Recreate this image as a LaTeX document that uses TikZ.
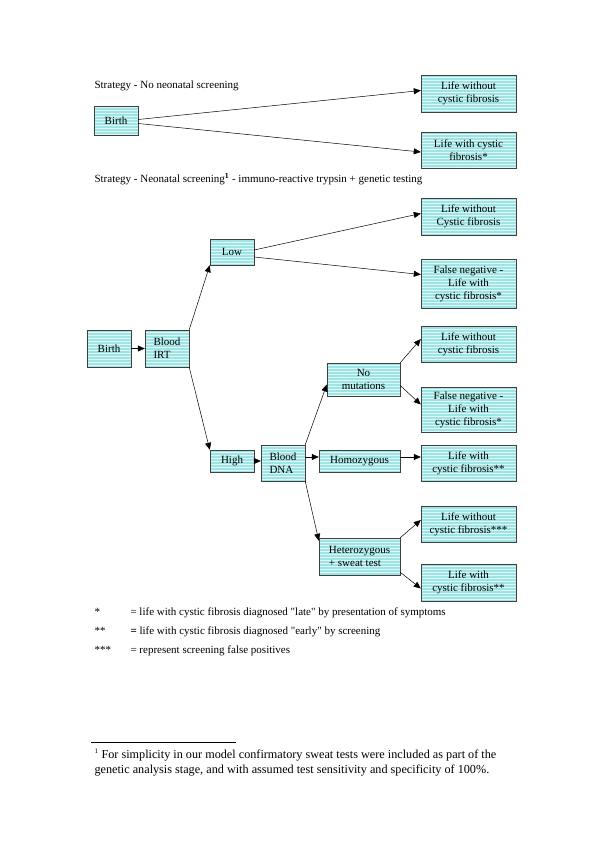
\documentclass[tikz,border=0pt]{standalone}
\usepackage{fontspec}
\setmainfont{Liberation Serif}
\usepackage{tikz}
\usetikzlibrary{arrows.meta,patterns}
\definecolor{boxcyan}{RGB}{158,228,228}
\definecolor{boxstripe}{RGB}{222,248,248}
\begin{document}
\begin{tikzpicture}
    [x=1pt, y=-1pt,
     every node/.style={font=\fontsize{11}{13}\selectfont},
     tree box/.style={draw=black!75, preaction={fill=boxcyan},
       pattern=horizontal lines, pattern color=boxstripe,
       inner sep=0pt, align=center},
     branch/.style={-{Triangle[length=7pt,width=6pt]}, line width=0.5pt},
     note/.style={anchor=base west, font=\fontsize{12.2}{14}\selectfont}]
    \useasboundingbox (0, 0) rectangle (600, 849);
    % strategy without screening
    \node[anchor=base west] (titleA) at (91, 88) {Strategy - No neonatal screening};
    \node[tree box, minimum width=44, minimum height=29] (birthA) at (116, 120.5) {Birth};
    \node[tree box, minimum width=95, minimum height=37] (lifeA) at (468.5, 93.5)
      {Life without\\cystic fibrosis};
    \node[tree box, minimum width=95, minimum height=36] (cfA) at (468.5, 150)
      {Life with cystic\\fibrosis*};
    \draw[branch] ([yshift=1pt]birthA.east) -- ([yshift=3pt]lifeA.west);
    \draw[branch] ([yshift=-3pt]birthA.east) -- ([yshift=-2pt]cfA.west);
    % strategy with screening
    \node[anchor=base west] (titleB) at (91, 182)
      {Strategy - Neonatal screening\textsuperscript{\textbf{1}} - immuno-reactive trypsin + genetic testing};
    \node[tree box, minimum width=44, minimum height=37] (birthB) at (109, 348.5) {Birth};
    \node[tree box, minimum width=44, minimum height=37, align=left] (bloodIRT) at (167, 348.5)
      {Blood\\IRT};
    \node[tree box, minimum width=44, minimum height=26] (low) at (232, 252) {Low};
    \node[tree box, minimum width=44, minimum height=22] (high) at (232, 461) {High};
    \node[tree box, minimum width=95, minimum height=37] (lifeLow) at (468.5, 216.5)
      {Life without\\Cystic fibrosis};
    \node[tree box, minimum width=95, minimum height=49] (fnLow) at (468.5, 283.5)
      {False negative -\\Life with\\cystic fibrosis*};
    \node[tree box, minimum width=44, minimum height=36, align=left] (bloodDNA) at (283, 463)
      {Blood\\DNA};
    \node[tree box, minimum width=73, minimum height=33] (noMut) at (363.5, 379.5)
      {No\\mutations};
    \node[tree box, minimum width=81, minimum height=22] (homo) at (359.5, 461) {Homozygous};
    \node[tree box, minimum width=81, minimum height=37, align=left] (hetero) at (359.5, 556.5)
      {Heterozygous\\+ sweat test};
    \node[tree box, minimum width=95, minimum height=36] (lifeNoMut) at (468.5, 344)
      {Life without\\cystic fibrosis};
    \node[tree box, minimum width=95, minimum height=45] (fnMut) at (468.5, 409.5)
      {False negative -\\Life with\\cystic fibrosis*};
    \node[tree box, minimum width=95, minimum height=36] (cfHomo) at (468.5, 463)
      {Life with\\cystic fibrosis**};
    \node[tree box, minimum width=95, minimum height=36] (lifeHet) at (468.5, 524)
      {Life without\\cystic fibrosis***};
    \node[tree box, minimum width=95, minimum height=37] (cfHet) at (468.5, 582.5)
      {Life with\\cystic fibrosis**};
    \draw[branch] (birthB.east) -- (bloodIRT.west);
    \draw[branch] (bloodIRT.north east) -- (low.south west);
    \draw[branch] (bloodIRT.south east) -- (high.north west);
    \draw[branch] ([yshift=2pt]low.east) -- ([yshift=3pt]lifeLow.west);
    \draw[branch] ([yshift=-5pt]low.east) -- ([yshift=9pt]fnLow.west);
    \draw[branch] (high.east) -- ([yshift=2pt]bloodDNA.west);
    \draw[branch] (bloodDNA.north east) -- ([yshift=-5pt]noMut.west);
    \draw[branch] ([yshift=6pt]bloodDNA.east) -- ([yshift=4pt]homo.west);
    \draw[branch] (bloodDNA.south east) -- ([yshift=-3pt]hetero.north west);
    \draw[branch] (noMut.north east) -- ([yshift=5pt]lifeNoMut.west);
    \draw[branch] ([yshift=-6pt]noMut.east) -- ([yshift=5pt]fnMut.west);
    \draw[branch] ([yshift=4pt]homo.east) -- ([yshift=6pt]cfHomo.west);
    \draw[branch] (hetero.north east) -- ([yshift=4pt]lifeHet.west);
    \draw[branch] ([yshift=3pt]hetero.south east) -- ([yshift=-6pt]cfHet.west);
    % key to the stars
    \node[anchor=base west] (keyA) at (91, 615) {*};
    \node[anchor=base west] (keyAtext) at (127, 615)
      {= life with cystic fibrosis diagnosed \textquotedbl late\textquotedbl{} by presentation of symptoms};
    \node[anchor=base west] (keyB) at (91, 634) {**};
    \node[anchor=base west] (keyBtext) at (127, 634)
      {\textbf{= }life with cystic fibrosis diagnosed \textquotedbl early\textquotedbl{} by screening};
    \node[anchor=base west] (keyC) at (91, 653) {***};
    \node[anchor=base west] (keyCtext) at (127, 653) {= represent screening false positives};
    % footnote
    \draw[line width=0.5pt] (91, 742) -- (236, 742);
    \node[note] (noteA) at (91, 758)
      {\textsuperscript{\scriptsize 1} For simplicity in our model confirmatory sweat tests were included as part of the};
    \node[note] (noteB) at (91, 773)
      {genetic analysis stage, and with assumed test sensitivity and specificity of 100\%.};
\end{tikzpicture}
\end{document}
